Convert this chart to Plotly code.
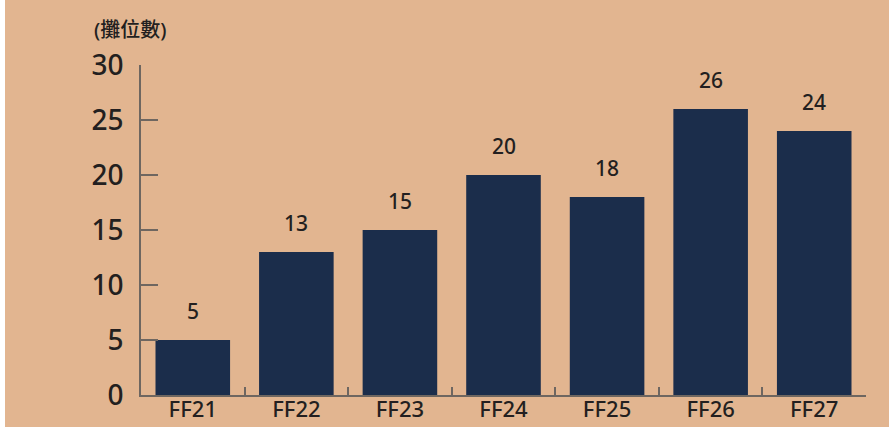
import plotly.graph_objects as go

categories = ["FF21", "FF22", "FF23", "FF24", "FF25", "FF26", "FF27"]
values = [5, 13, 15, 20, 18, 26, 24]
y_ticks = [0, 5, 10, 15, 20, 25, 30]
unit_label = "(攤位數)"

BG = "#E2B590"
BAR = "#1B2D4B"
TXT = "#231F20"
AXIS = "#6E6660"
FONT = "Noto Sans, Noto Sans CJK TC, sans-serif"
W = 500

fig = go.Figure()
fig.add_trace(go.Bar(x=categories, y=values, marker=dict(color=BAR, line=dict(width=0)),
                     hoverinfo="skip"))

for c, v in zip(categories, values):
    fig.add_annotation(x=c, y=v, text=str(v), showarrow=False, yshift=29,
                       font=dict(size=21, color=TXT, family=FONT, weight=W))

fig.add_annotation(xref="paper", yref="paper", x=-0.067, y=1.109, xanchor="left",
                   yanchor="middle", text=unit_label, showarrow=False,
                   font=dict(size=20, color=TXT, family=FONT, weight=W))

fig.update_layout(
    width=884, height=427,
    paper_bgcolor=BG, plot_bgcolor=BG,
    margin=dict(l=136, r=23, t=65, b=32, autoexpand=False),
    bargap=0.28,
    showlegend=False,
    font=dict(family=FONT, color=TXT),
    xaxis=dict(type="category", showline=True, linecolor=AXIS, linewidth=1.5,
               ticks="inside", tickson="boundaries", ticklen=8, tickcolor=AXIS,
               tickwidth=1.5, showgrid=False, zeroline=False, automargin=False,
               ticklabelstandoff=-6,
               tickfont=dict(size=22, color=TXT, family=FONT, weight=W)),
    yaxis=dict(range=[0, 30], tickvals=y_ticks, showline=True, linecolor=AXIS,
               linewidth=1.5, ticks="inside", ticklen=17, tickcolor=AXIS, tickwidth=1.5,
               showgrid=False, zeroline=False, ticklabelstandoff=10, automargin=False,
               tickfont=dict(size=28, color=TXT, family=FONT, weight=W)),
)

fig.write_html("out.html", post_script="document.body.style.margin='0 0 0 5px';")
